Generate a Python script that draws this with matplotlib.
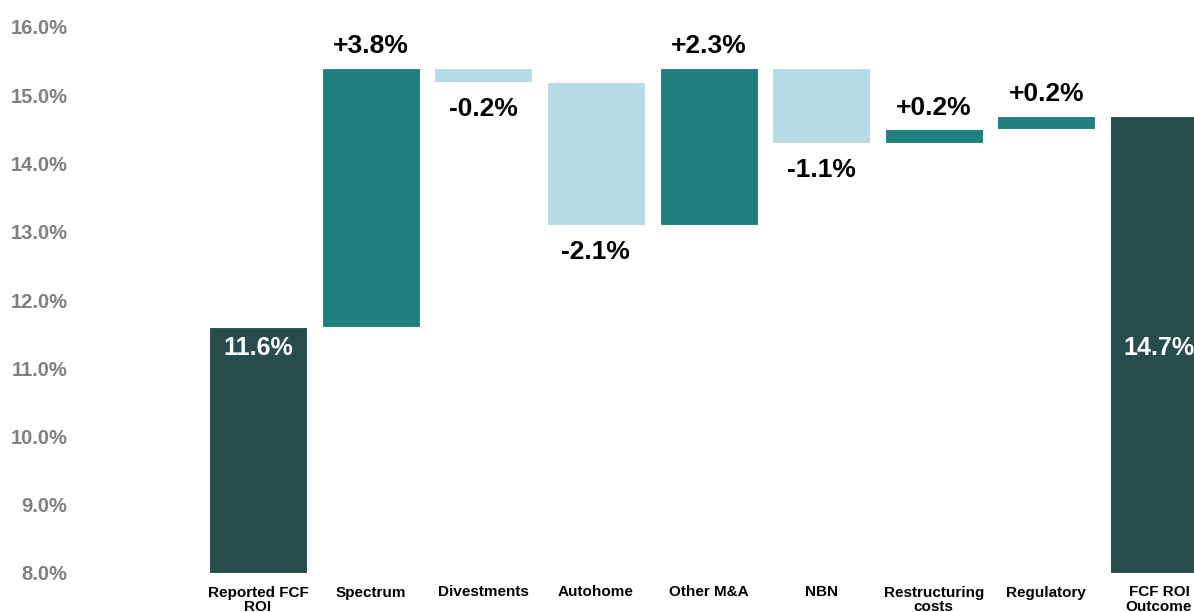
import numpy as np
import matplotlib.pyplot as plt
import matplotlib.ticker as mticker

plt.rcParams['font.family'] = ['Liberation Sans', 'DejaVu Sans']

# waterfall data (percentage points)
categories = ['Reported FCF\nROI', 'Spectrum', 'Divestments', 'Autohome', 'Other M&A',
              'NBN', 'Restructuring\ncosts', 'Regulatory', 'FCF ROI\nOutcome']
start_value = 11.6
deltas = [3.8, -0.2, -2.1, 2.3, -1.1, 0.2, 0.2]
end_value = 14.7
yticks = [8, 9, 10, 11, 12, 13, 14, 15, 16]

dark = '#264c4c'
teal = '#20807e'
light = '#b7dbe5'

fig = plt.figure(figsize=(11.94, 6.12), dpi=100)
ax = fig.add_axes([80 / 1194, 39 / 612, 1 - 80 / 1194, 546 / 612])

x = np.arange(len(categories))
width = 0.87
base = 8.0

# totals
ax.bar(x[0], start_value - base, bottom=base, width=width, color=dark,
       edgecolor='white', linewidth=0.8)
ax.bar(x[-1], end_value - base, bottom=base, width=width, color=dark,
       edgecolor='white', linewidth=0.8)

# steps
level = start_value
for i, d in enumerate(deltas):
    xi = x[i + 1]
    lo = min(level, level + d)
    col = teal if d > 0 else light
    ax.bar(xi, abs(d), bottom=lo, width=width, color=col,
           edgecolor='white', linewidth=0.8)
    txt = f'{d:+.1f}%'
    if d > 0:
        ax.annotate(txt, (xi, level + d), xytext=(0, 7), textcoords='offset points',
                    ha='center', va='bottom', fontsize=19, fontweight='bold',
                    color='black', annotation_clip=False)
    else:
        ax.annotate(txt, (xi, level + d), xytext=(0, -11), textcoords='offset points',
                    ha='center', va='top', fontsize=19, fontweight='bold',
                    color='black', annotation_clip=False)
    level += d

# total labels inside bars
for xi, v in [(x[0], start_value), (x[-1], end_value)]:
    ax.text(xi, 11.3, f'{v:.1f}%', ha='center', va='center', fontsize=18,
            fontweight='bold', color='white')

ax.set_xlim((80 - 258) / 112.6, 8 + (1194 - 1159) / 112.6)
ax.set_ylim(8, 16)
ax.set_yticks(yticks)
ax.yaxis.set_major_formatter(mticker.StrMethodFormatter('{x:.1f}%'))
ax.set_xticks(x)
ax.set_xticklabels(categories, fontsize=11, fontweight='bold', linespacing=1.05)
ax.tick_params(axis='x', length=0, pad=9)
ax.tick_params(axis='y', length=0, pad=9, labelsize=14.5, labelcolor='#808080')
for lab in ax.get_yticklabels():
    lab.set_fontweight('bold')
for s in ax.spines.values():
    s.set_visible(False)

fig.savefig('out.png', dpi=100)
